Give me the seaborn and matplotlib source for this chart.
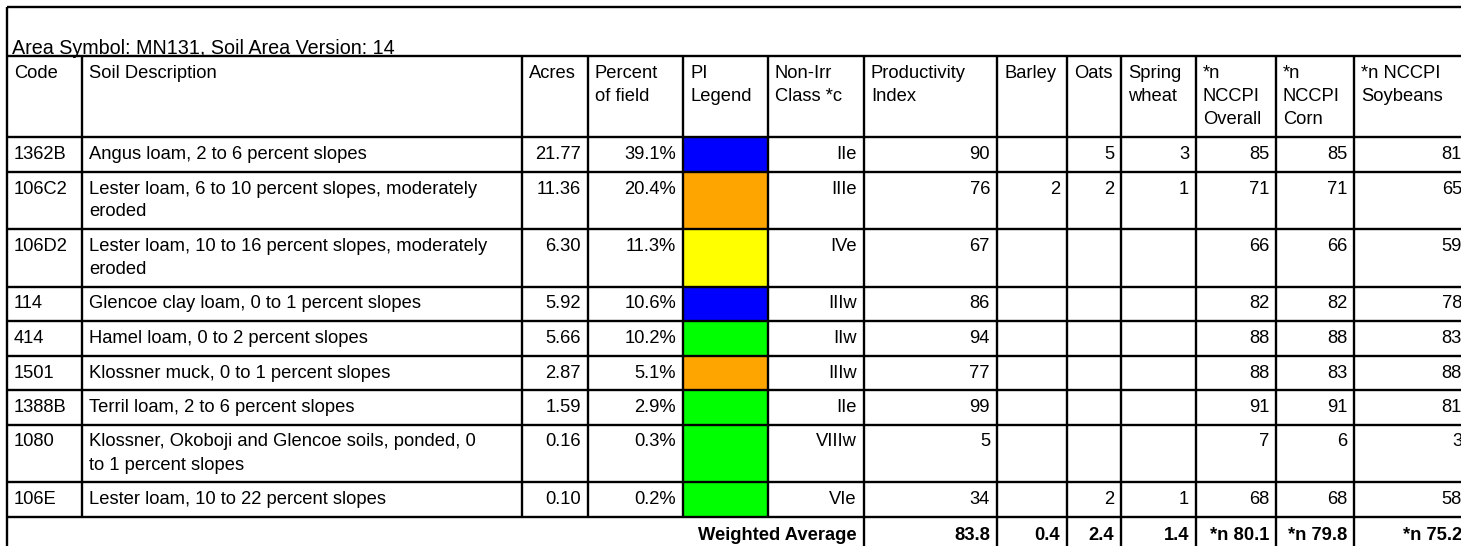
import matplotlib
matplotlib.use("Agg")
import matplotlib.pyplot as plt
import seaborn as sns

sns.set_theme(style="white")
plt.rcParams["font.family"] = ["Liberation Sans", "DejaVu Sans"]
plt.rcParams["text.color"] = "black"

# ---- data ----
area_title = "Area Symbol: MN131, Soil Area Version: 14"
headers = ["Code", "Soil Description", "Acres", "Percent\nof field", "PI\nLegend",
           "Non-Irr\nClass *c", "Productivity\nIndex", "Barley", "Oats", "Spring\nwheat",
           "*n\nNCCPI\nOverall", "*n\nNCCPI\nCorn", "*n NCCPI\nSoybeans"]
codes = ["1362B", "106C2", "106D2", "114", "414", "1501", "1388B", "1080", "106E"]
descriptions = [
    "Angus loam, 2 to 6 percent slopes",
    "Lester loam, 6 to 10 percent slopes, moderately\neroded",
    "Lester loam, 10 to 16 percent slopes, moderately\neroded",
    "Glencoe clay loam, 0 to 1 percent slopes",
    "Hamel loam, 0 to 2 percent slopes",
    "Klossner muck, 0 to 1 percent slopes",
    "Terril loam, 2 to 6 percent slopes",
    "Klossner, Okoboji and Glencoe soils, ponded, 0\nto 1 percent slopes",
    "Lester loam, 10 to 22 percent slopes",
]
acres = [21.77, 11.36, 6.30, 5.92, 5.66, 2.87, 1.59, 0.16, 0.10]
percent = [39.1, 20.4, 11.3, 10.6, 10.2, 5.1, 2.9, 0.3, 0.2]
pi_legend = ["blue", "orange", "yellow", "blue", "green", "orange", "green", "green", "green"]
non_irr = ["IIe", "IIIe", "IVe", "IIIw", "IIw", "IIIw", "IIe", "VIIIw", "VIe"]
productivity = [90, 76, 67, 86, 94, 77, 99, 5, 34]
barley = [None, 2, None, None, None, None, None, None, None]
oats = [5, 2, None, None, None, None, None, None, 2]
spring_wheat = [3, 1, None, None, None, None, None, None, 1]
nccpi_overall = [85, 71, 66, 82, 88, 88, 91, 7, 68]
nccpi_corn = [85, 71, 66, 82, 88, 83, 91, 6, 68]
nccpi_soy = [81, 65, 59, 78, 83, 88, 81, 3, 58]
weighted_label = "Weighted Average"
weighted = ["83.8", "0.4", "2.4", "1.4", "*n 80.1", "*n 79.8", "*n 75.2"]

pi_colors = {"blue": "#0000ff", "orange": "#ffa500", "yellow": "#ffff00", "green": "#00ff00"}

# ---- layout (pixels) ----
W, H = 1461, 546
col_edges = [7, 82, 522, 588, 683, 768, 864, 997, 1067, 1121, 1196, 1276, 1354, 1469]
top_y, header_top, header_bot = 7, 56, 137
line_h, single_h = 23, 34.5
pad = 7
fs = 13.2
lw = 1.7


def fmt(v):
    return "" if v is None else str(v)


rows = []
for i in range(len(codes)):
    rows.append([codes[i], descriptions[i], f"{acres[i]:.2f}", f"{percent[i]:.1f}%", "",
                 non_irr[i], fmt(productivity[i]), fmt(barley[i]), fmt(oats[i]),
                 fmt(spring_wheat[i]), fmt(nccpi_overall[i]), fmt(nccpi_corn[i]),
                 fmt(nccpi_soy[i])])

row_tops = [header_bot]
for r in rows:
    n = r[1].count("\n") + 1
    row_tops.append(row_tops[-1] + single_h + (n - 1) * line_h)
table_bot = row_tops[-1]

fig = plt.figure(figsize=(W / 100, H / 100), dpi=100)
ax = fig.add_axes([0, 0, 1, 1])
ax.set_xlim(0, W)
ax.set_ylim(H, 0)
ax.axis("off")


def cell_text(text, col, top, align, bold=False):
    for k, line in enumerate(text.split("\n")):
        x = col_edges[col] + pad if align == "left" else col_edges[col + 1] - pad
        ax.text(x, top + 22 + k * line_h, line, ha=align, va="baseline", fontsize=fs,
                fontweight="bold" if bold else "normal", color="black")


# PI legend colour cells
for i, c in enumerate(pi_legend):
    ax.bar((col_edges[4] + col_edges[5]) / 2, row_tops[i + 1] - row_tops[i],
           width=col_edges[5] - col_edges[4], bottom=row_tops[i],
           color=pi_colors[c], edgecolor="none", zorder=1)

# title and headers
ax.text(col_edges[0] + 5, 54, area_title, ha="left", va="baseline", fontsize=14.2,
        color="black")
for j, h in enumerate(headers):
    cell_text(h, j, header_top, "left")

# body
for i, r in enumerate(rows):
    for j, v in enumerate(r):
        cell_text(v, j, row_tops[i], "left" if j < 2 else "right")

# weighted average row
cell_text(weighted_label, 5, table_bot + 2, "right", bold=True)
for j, v in enumerate(weighted):
    cell_text(v, 6 + j, table_bot + 2, "right", bold=True)

# grid lines
ax.hlines([top_y, header_top, header_bot] + row_tops[1:], col_edges[0], col_edges[-1],
          color="black", lw=lw, zorder=3)
ax.vlines(col_edges[0], top_y, H, color="black", lw=lw, zorder=3)
ax.vlines(col_edges[1:6], header_top, table_bot, color="black", lw=lw, zorder=3)
ax.vlines(col_edges[6:-1], header_top, H, color="black", lw=lw, zorder=3)

fig.savefig("out.png", dpi=100, facecolor="white")
